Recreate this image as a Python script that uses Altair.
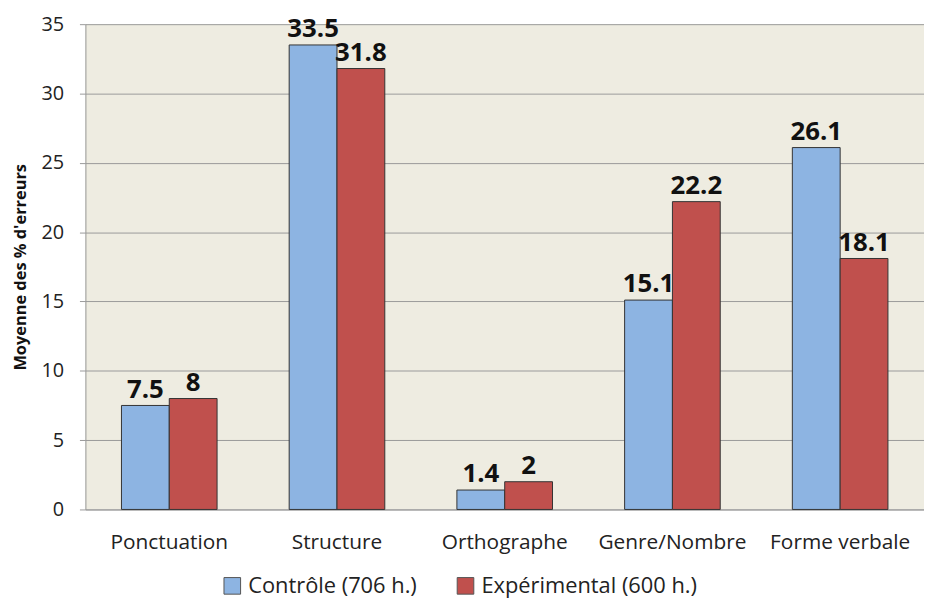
import altair as alt
import pandas as pd

categories = ["Ponctuation", "Structure", "Orthographe", "Genre/Nombre", "Forme verbale"]
series = ["Contrôle (706 h.)", "Expérimental (600 h.)"]
controle = [7.5, 33.5, 1.4, 15.1, 26.1]
experimental = [8, 31.8, 2, 22.2, 18.1]
labels_c = ["7.5", "33.5", "1.4", "15.1", "26.1"]
labels_e = ["8", "31.8", "2", "22.2", "18.1"]

rows = []
for i, c in enumerate(categories):
    rows.append({"cat": c, "serie": series[0], "val": controle[i], "lab": labels_c[i]})
    rows.append({"cat": c, "serie": series[1], "val": experimental[i], "lab": labels_e[i]})
df = pd.DataFrame(rows)

FONT = "Open Sans"

x = alt.X("cat:N", sort=categories, title=None,
          scale=alt.Scale(paddingInner=0.43, paddingOuter=0.215),
          axis=alt.Axis(labelAngle=0, labelFontSize=21, labelFont=FONT, labelColor="#222",
                        labelPadding=22, ticks=False, domainColor="#999", domainWidth=1,
                        labelLimit=300))
xoff = alt.XOffset("serie:N", sort=series)

bars = alt.Chart(df).mark_bar(stroke="#333", strokeWidth=1).encode(
    x=x, xOffset=xoff,
    y=alt.Y("val:Q", title="Moyenne des % d'erreurs",
            scale=alt.Scale(domain=[0, 35], nice=False),
            axis=alt.Axis(values=[0, 5, 10, 15, 20, 25, 30, 35], labelFontSize=20, labelFont=FONT,
                          labelColor="#222", titleFont=FONT, titleFontSize=16.5, titleFontWeight="bold",
                          titleColor="#111", titlePadding=12, gridColor="#9a9a9a", gridWidth=1,
                          tickColor="#9a9a9a", tickSize=6, domainColor="#999", labelPadding=16)),
    color=alt.Color("serie:N", sort=series,
                    scale=alt.Scale(domain=series, range=["#8DB4E2", "#C0504D"]),
                    legend=alt.Legend(title=None, orient="none", legendX=137, legendY=555,
                                      direction="horizontal", symbolType="square", symbolSize=280,
                                      symbolStrokeColor="#555", symbolStrokeWidth=1,
                                      labelFontSize=22, labelFont=FONT, labelColor="#222",
                                      columnPadding=38, labelOffset=5, labelLimit=400)),
)

text = alt.Chart(df).mark_text(baseline="bottom", dy=-3, fontSize=26, fontWeight="bold",
                               font=FONT, color="#111").encode(
    x=alt.X("cat:N", sort=categories), xOffset=xoff,
    y=alt.Y("val:Q"), text="lab:N",
)

chart = (bars + text).properties(
    width=845, height=489,
    padding={"left": 78, "top": 14, "right": 0, "bottom": 95},
    autosize=alt.AutoSizeParams(type="none"),
    background="white",
).configure_view(fill="#EEECE1", stroke=None)

chart.save("out.html", embed_options={"renderer": "svg", "actions": False})
